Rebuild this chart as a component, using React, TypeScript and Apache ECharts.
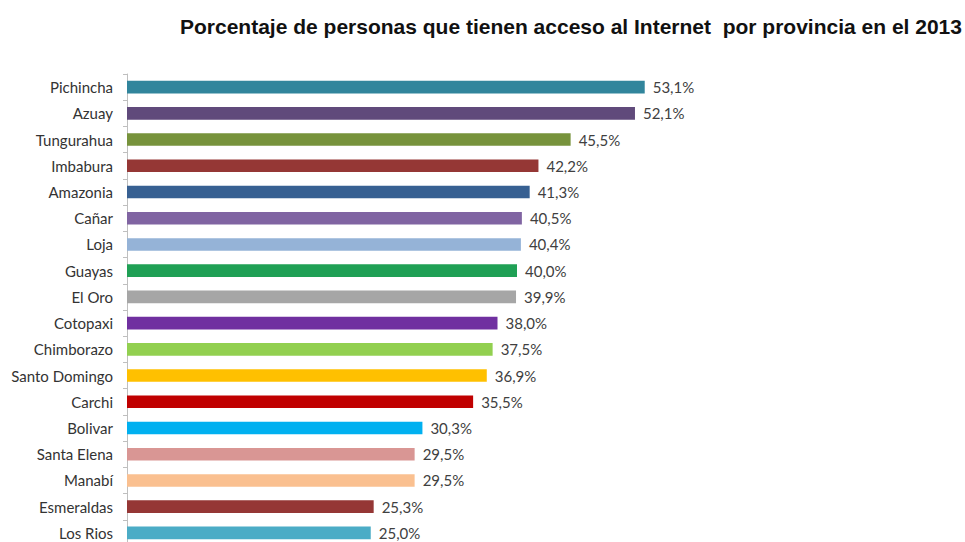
import React, { useEffect, useRef } from "react";
import * as echarts from "echarts";

const categories = [
  "Pichincha", "Azuay", "Tungurahua", "Imbabura", "Amazonia", "Cañar", "Loja", "Guayas", "El Oro",
  "Cotopaxi", "Chimborazo", "Santo Domingo", "Carchi", "Bolivar", "Santa Elena", "Manabí", "Esmeraldas", "Los Rios",
];
const values = [53.1, 52.1, 45.5, 42.2, 41.3, 40.5, 40.4, 40.0, 39.9, 38.0, 37.5, 36.9, 35.5, 30.3, 29.5, 29.5, 25.3, 25.0];
const colors = [
  "#31859C", "#604A7B", "#77933C", "#953735", "#376092", "#8064A2", "#95B3D7", "#1FA055", "#A6A6A6",
  "#7030A0", "#92D050", "#FFC000", "#C00000", "#00B0F0", "#D99694", "#FAC090", "#953735", "#4BACC6",
];
const title = "Porcentaje de personas que tienen acceso al Internet  por provincia en el 2013";

export default function App() {
  const ref = useRef<HTMLDivElement>(null);
  useEffect(() => {
    const chart = echarts.init(ref.current!, null, { renderer: "svg" });
    chart.setOption({
      animation: false,
      backgroundColor: "#ffffff",
      title: {
        text: title,
        left: 175,
        top: 11,
        textStyle: { fontFamily: "Liberation Sans", fontWeight: "bold", fontSize: 21, color: "#111111" },
      },
      grid: { left: 127, top: 74, right: 253, bottom: 0, containLabel: false },
      xAxis: { type: "value", min: 0, max: 60, show: false },
      yAxis: {
        type: "category",
        data: categories,
        inverse: true,
        axisLine: { show: true, lineStyle: { color: "#BFBFBF", width: 1 } },
        axisTick: { show: true, length: 4, lineStyle: { color: "#BFBFBF" } },
        axisLabel: { margin: 14, fontFamily: "Lato", fontSize: 15, color: "#333333" },
      },
      series: [
        {
          type: "bar",
          data: values.map((v, i) => ({ value: v, itemStyle: { color: colors[i] } })),
          barCategoryGap: "52%",
          label: {
            show: true,
            position: "right",
            distance: 8,
            fontFamily: "Lato",
            fontSize: 15,
            color: "#404040",
            formatter: (p: any) => p.value.toFixed(1).replace(".", ",") + "%",
          },
        },
      ],
    });
    return () => chart.dispose();
  }, []);
  return <div ref={ref} style={{ position: "absolute", left: 0, top: 0, width: 965, height: 546 }} />;
}
